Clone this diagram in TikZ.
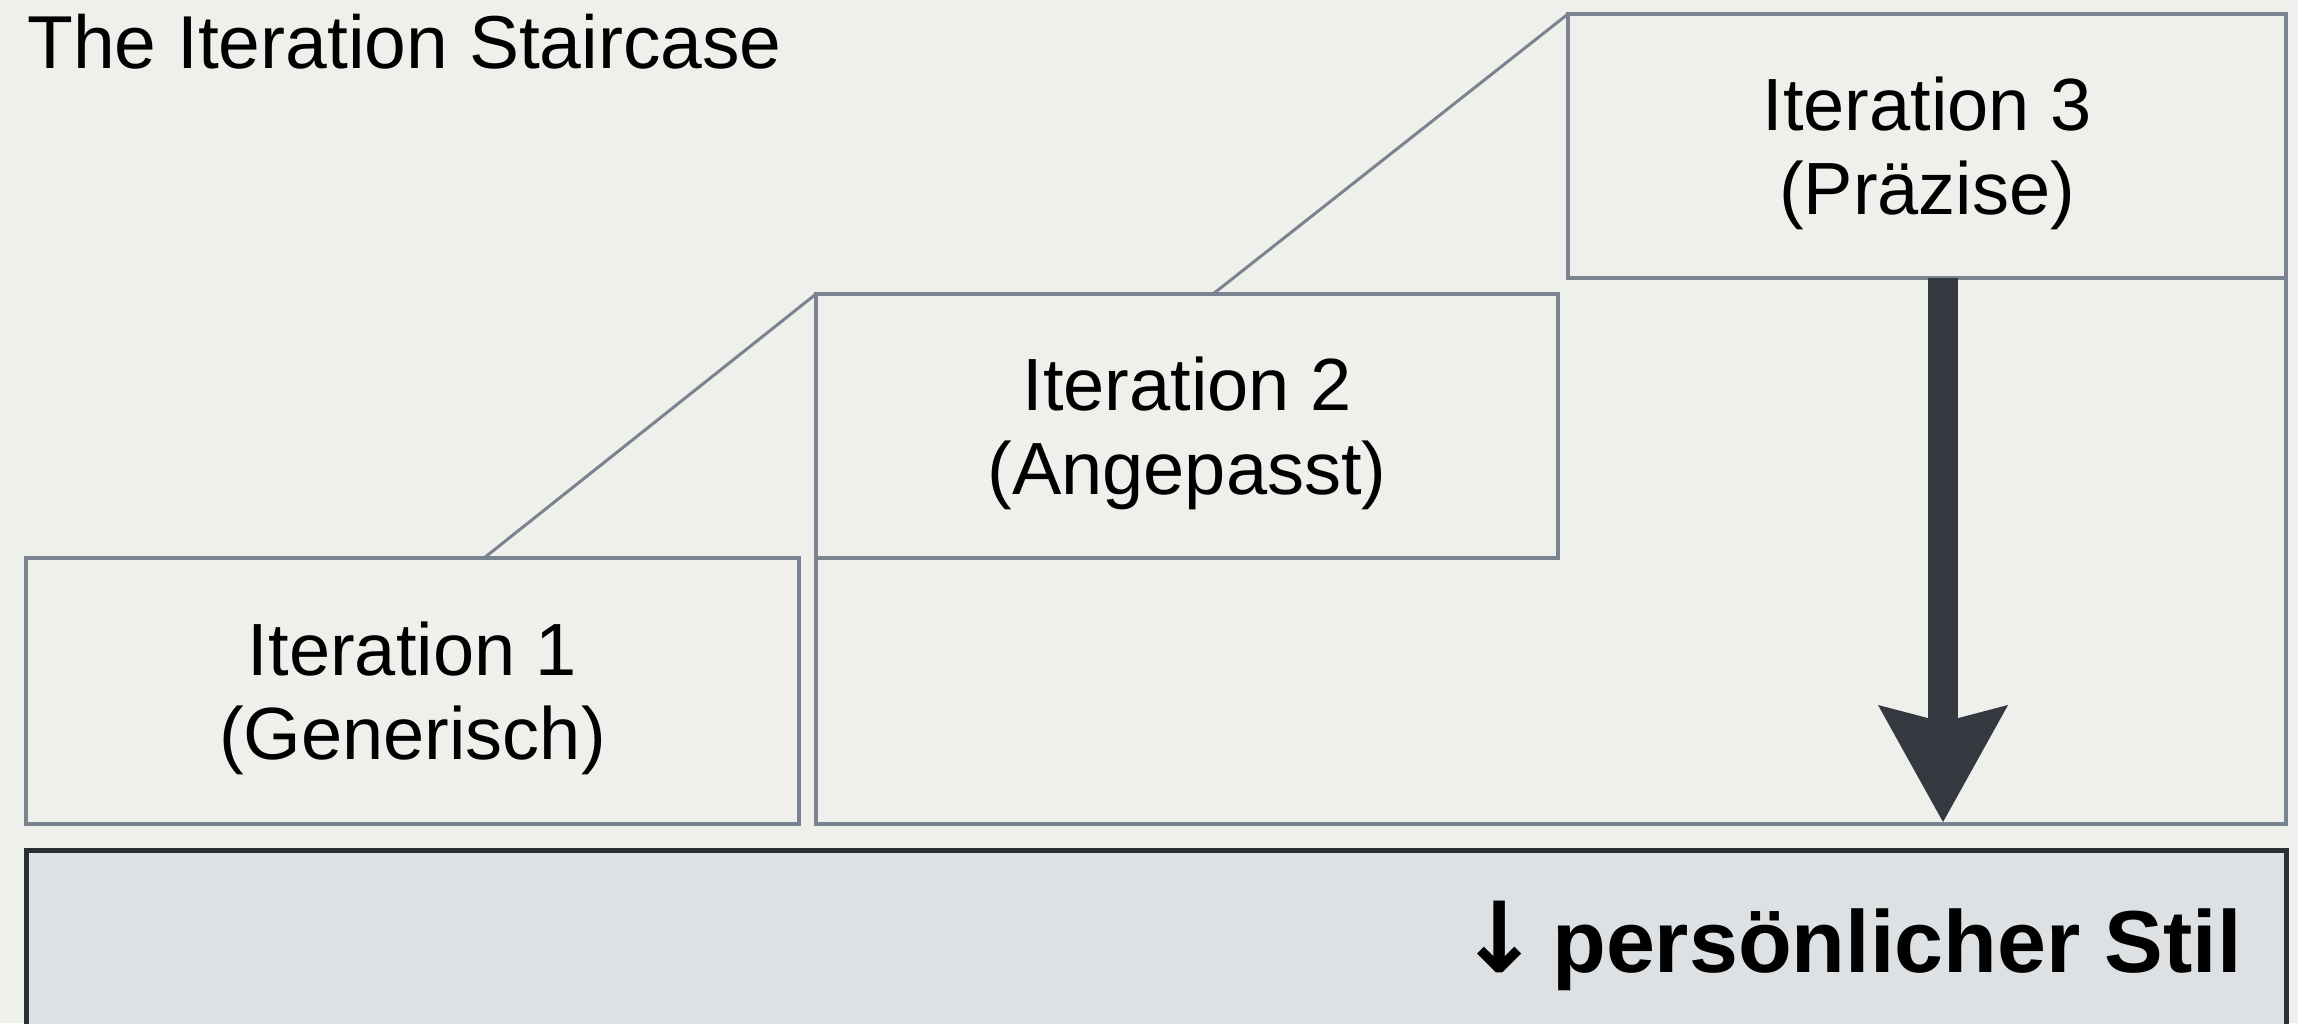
\documentclass[tikz,border=0pt]{standalone}
\usepackage{fontspec}
\setmainfont{Liberation Sans}
\newfontfamily\arrowfont{DejaVu Sans}
\usetikzlibrary{arrows.meta}
\definecolor{bg}{HTML}{EFEFEB}
\definecolor{edge}{HTML}{7A8490}
\definecolor{panel}{HTML}{DEE1E3}
\definecolor{panelEdge}{HTML}{2B3036}
\definecolor{arrowc}{HTML}{34393F}
\newcommand{\topstrut}{\rule{0pt}{68pt}}
\begin{document}
\begin{tikzpicture}[x=1pt,y=-1pt,
  stepbox/.style={draw=edge, line width=4pt, fill=bg, rectangle, inner sep=0pt, outer sep=0pt,
    align=center, font=\fontsize{74}{84}\selectfont},
  riser/.style={draw=edge, line width=3pt},
  outline/.style={draw=edge, line width=4pt, line join=miter},
  panelbox/.style={draw=panelEdge, fill=panel, line width=5pt, inner sep=0pt, outer sep=0pt},
]
\fill[bg] (0,0) rectangle (2298,1023);
\useasboundingbox (0,0) rectangle (2298,1023);

\node[anchor=base west, inner sep=0pt, font=\fontsize{75}{80}\selectfont] (title) at (27,68) {The Iteration Staircase};

\node[stepbox, minimum width=773pt, minimum height=266pt] (it1) at (412.5,691) {\topstrut Iteration 1\\(Generisch)};
\node[stepbox, minimum width=742pt, minimum height=264pt] (it2) at (1187,426) {\topstrut Iteration 2\\(Angepasst)};
\node[stepbox, minimum width=718pt, minimum height=264pt] (it3) at (1927,146) {\topstrut Iteration 3\\(Präzise)};

\draw[outline] (it2.south west) -- (it2.south west |- it1.south) -- (it3.south east |- it1.south) -- (it3.south east);

\draw[riser] ([xshift=458pt]it1.north west) -- (it2.north west);
\draw[riser] ([xshift=397pt]it2.north west) -- (it3.north west);

\node[panelbox, minimum width=2260pt, minimum height=240pt, anchor=north west] (panel) at (26,850) {};
\node[anchor=base east, inner sep=0pt, font=\bfseries\fontsize{88}{92}\selectfont] (stil) at (2242,972) {{\arrowfont\bfseries\fontsize{98}{98}\selectfont ↓}\hspace{12pt}persönlicher Stil};

\coordinate (tip) at (1943,822);
\draw[arrowc, line width=30pt, -{Stealth[length=117pt, width=130pt, inset=17pt, line width=0pt]}] (it3.south -| tip) -- (tip);
\end{tikzpicture}
\end{document}
